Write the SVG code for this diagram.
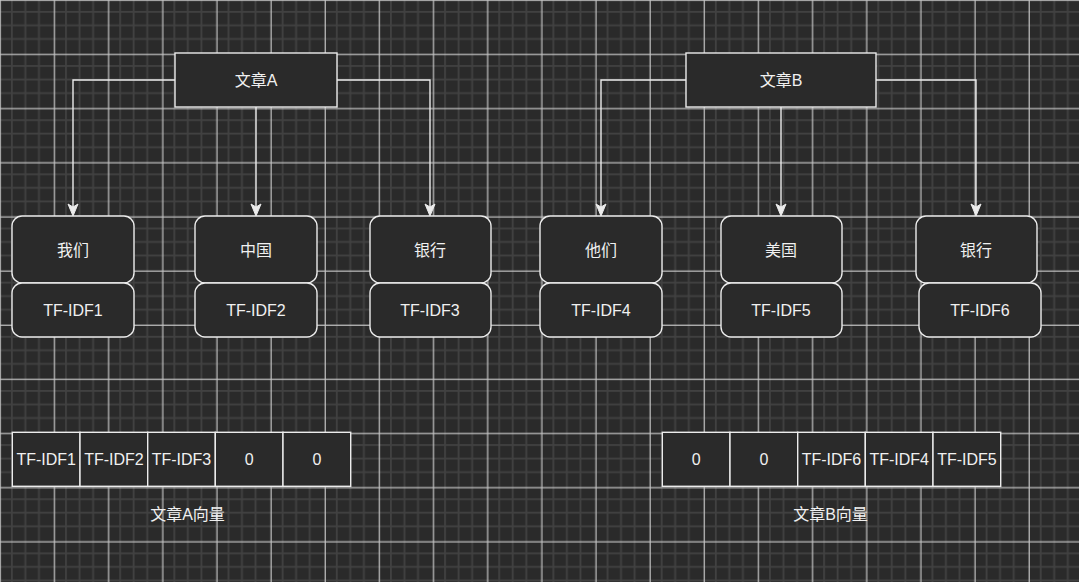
<svg xmlns="http://www.w3.org/2000/svg" width="1079" height="582" viewBox="0 0 1079 582">
<style>
.bg{fill:#2a2a2a}
.box{fill:#2a2a2a;stroke:#ececec;stroke-width:1.4}
.edge{fill:none;stroke:#ececec;stroke-width:1.4}
.t{font-family:"Liberation Sans","Noto Sans CJK SC",sans-serif;font-size:16px;fill:#f0f0f0;text-anchor:middle;dominant-baseline:central}
</style>
<defs>
<pattern id="grid" patternUnits="userSpaceOnUse" x="-1.85" y="-1.85" width="54.15" height="54.15">
<rect width="54.15" height="54.15" fill="#2a2a2a"/>
<g fill="#414141">
<rect x="12.8" y="0" width="1.8" height="54.15"/>
<rect x="26.3" y="0" width="1.8" height="54.15"/>
<rect x="39.9" y="0" width="1.8" height="54.15"/>
<rect x="0" y="12.8" width="54.15" height="1.8"/>
<rect x="0" y="26.3" width="54.15" height="1.8"/>
<rect x="0" y="39.9" width="54.15" height="1.8"/>
</g>
<g fill="#c4c4c4">
<rect x="1.6" y="0" width="1.2" height="54.15"/>
<rect x="0" y="1.6" width="54.15" height="1.2"/>
</g>
</pattern>
<marker id="arr" markerUnits="userSpaceOnUse" markerWidth="14" markerHeight="12" refX="0" refY="0" orient="auto" overflow="visible">
<path d="M0,0 L-3,-5 L9,0 L-3,5 Z" fill="#ececec" stroke="#ececec" stroke-width="1"/>
</marker>
</defs>
<rect class="bg" x="0" y="0" width="1079" height="582"/>
<rect x="0" y="0" width="1079" height="582" fill="url(#grid)"/>

<g id="connectors">
<path class="edge" d="M175,80 H73 V207" marker-end="url(#arr)"/>
<path class="edge" d="M256,107 V207" marker-end="url(#arr)"/>
<path class="edge" d="M337,80 H430 V207" marker-end="url(#arr)"/>
<path class="edge" d="M686,80 H601 V207" marker-end="url(#arr)"/>
<path class="edge" d="M781,107 V207" marker-end="url(#arr)"/>
<path class="edge" d="M876,80 H976 V207" marker-end="url(#arr)"/>
</g>

<g id="docA"><rect class="box" x="175" y="53" width="162" height="54"/><text class="t" x="256" y="80">文章A</text></g>
<g id="docB"><rect class="box" x="686" y="53" width="190" height="54"/><text class="t" x="781" y="80">文章B</text></g>

<g id="wA1"><rect class="box" x="12" y="216" width="122" height="67" rx="10"/><text class="t" x="73" y="250">我们</text></g>
<g id="tA1"><rect class="box" x="12" y="283" width="122" height="54" rx="10"/><text class="t" x="73" y="310">TF-IDF1</text></g>
<g id="wA2"><rect class="box" x="195" y="216" width="122" height="67" rx="10"/><text class="t" x="256" y="250">中国</text></g>
<g id="tA2"><rect class="box" x="195" y="283" width="122" height="54" rx="10"/><text class="t" x="256" y="310">TF-IDF2</text></g>
<g id="wA3"><rect class="box" x="370" y="216" width="121" height="67" rx="10"/><text class="t" x="430" y="250">银行</text></g>
<g id="tA3"><rect class="box" x="370" y="283" width="121" height="54" rx="10"/><text class="t" x="430" y="310">TF-IDF3</text></g>

<g id="wB1"><rect class="box" x="540" y="216" width="122" height="67" rx="10"/><text class="t" x="601" y="250">他们</text></g>
<g id="tB1"><rect class="box" x="540" y="283" width="122" height="54" rx="10"/><text class="t" x="601" y="310">TF-IDF4</text></g>
<g id="wB2"><rect class="box" x="721" y="216" width="121" height="67" rx="10"/><text class="t" x="781" y="250">美国</text></g>
<g id="tB2"><rect class="box" x="721" y="283" width="121" height="54" rx="10"/><text class="t" x="781" y="310">TF-IDF5</text></g>
<g id="wB3"><rect class="box" x="916" y="216" width="121" height="67" rx="10"/><text class="t" x="976" y="250">银行</text></g>
<g id="tB3"><rect class="box" x="919" y="283" width="122" height="54" rx="10"/><text class="t" x="980" y="310">TF-IDF6</text></g>

<g id="vecA">
<rect class="box" x="12.3" y="432.3" width="67.7" height="54"/><text class="t" x="46.2" y="459.5">TF-IDF1</text>
<rect class="box" x="80" y="432.3" width="67.7" height="54"/><text class="t" x="113.9" y="459.5">TF-IDF2</text>
<rect class="box" x="147.7" y="432.3" width="67.6" height="54"/><text class="t" x="181.5" y="459.5">TF-IDF3</text>
<rect class="box" x="215.3" y="432.3" width="67.7" height="54"/><text class="t" x="249.2" y="459.5">0</text>
<rect class="box" x="283" y="432.3" width="67.7" height="54"/><text class="t" x="316.9" y="459.5">0</text>
</g>
<g id="vecA-label"><text class="t" x="187.5" y="514">文章A向量</text></g>

<g id="vecB">
<rect class="box" x="662.3" y="432.3" width="67.7" height="54"/><text class="t" x="696.2" y="459.5">0</text>
<rect class="box" x="730" y="432.3" width="67.7" height="54"/><text class="t" x="763.9" y="459.5">0</text>
<rect class="box" x="797.7" y="432.3" width="67.6" height="54"/><text class="t" x="831.5" y="459.5">TF-IDF6</text>
<rect class="box" x="865.3" y="432.3" width="67.7" height="54"/><text class="t" x="899.2" y="459.5">TF-IDF4</text>
<rect class="box" x="933" y="432.3" width="67.7" height="54"/><text class="t" x="966.9" y="459.5">TF-IDF5</text>
</g>
<g id="vecB-label"><text class="t" x="830.5" y="514">文章B向量</text></g>
</svg>
